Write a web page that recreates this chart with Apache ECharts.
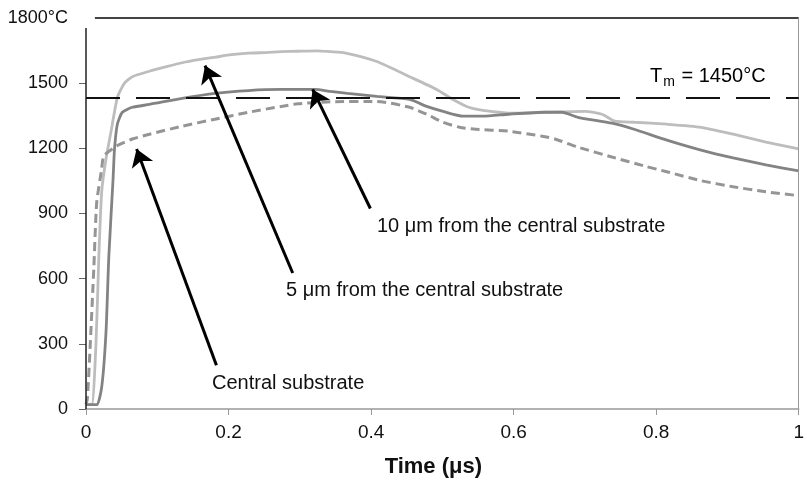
<!DOCTYPE html>
<html>
<head>
<meta charset="utf-8">
<script src="https://cdn.jsdelivr.net/npm/echarts@6/dist/echarts.min.js"></script>
<style>html,body{margin:0;padding:0;background:#fff}#c{width:807px;height:483px}</style>
</head>
<body>
<div id="c"></div>
<script>
// ---- data (time in µs, temperature in °C) ----
const xTicks = [0, 0.2, 0.4, 0.6, 0.8, 1];
const yTicks = [0, 300, 600, 900, 1200, 1500, 1800];
const meltTemp = 1435; // drawn position of the Tm line
const meltLabel = 'T_m = 1450°C';

const fiveMicron = [[0,20],[0.008,20],[0.014,300],[0.018,700],[0.022,1000],[0.028,1150],[0.035,1275],[0.044,1434],[0.054,1500],[0.065,1530],[0.089,1555],[0.113,1576],[0.135,1594],[0.158,1608],[0.182,1620],[0.204,1631],[0.228,1638],[0.251,1641],[0.274,1645],[0.297,1647],[0.325,1649],[0.343,1645],[0.363,1640],[0.408,1600],[0.454,1530],[0.492,1471],[0.515,1425],[0.537,1389],[0.557,1375],[0.599,1362],[0.644,1366],[0.700,1370],[0.724,1357],[0.742,1325],[0.769,1320],[0.815,1311],[0.863,1297],[0.908,1265],[0.954,1229],[1.0,1197]];

const tenMicron = [[0,20],[0.015,20],[0.022,100],[0.028,350],[0.032,700],[0.038,1060],[0.040,1197],[0.044,1311],[0.051,1366],[0.065,1389],[0.089,1402],[0.135,1430],[0.181,1453],[0.228,1466],[0.274,1471],[0.321,1471],[0.343,1462],[0.367,1453],[0.408,1439],[0.454,1425],[0.478,1393],[0.501,1370],[0.529,1348],[0.557,1348],[0.593,1357],[0.644,1366],[0.668,1366],[0.690,1343],[0.738,1316],[0.769,1288],[0.815,1238],[0.863,1192],[0.908,1156],[0.954,1124],[1.0,1096]];

const central = [[0,20],[0.002,50],[0.006,300],[0.011,650],[0.015,950],[0.022,1105],[0.025,1165],[0.043,1211],[0.065,1243],[0.089,1265],[0.135,1302],[0.181,1334],[0.228,1366],[0.274,1393],[0.297,1405],[0.343,1414],[0.408,1416],[0.454,1389],[0.478,1357],[0.501,1320],[0.524,1297],[0.547,1288],[0.593,1279],[0.640,1256],[0.658,1243],[0.690,1206],[0.738,1160],[0.783,1119],[0.815,1092],[0.863,1051],[0.908,1023],[0.954,1000],[1.0,982]];

// annotation arrows: [tail, tip] in data coords
const arrowCentral = [[0.183, 201], [0.071, 1197]];
const arrowFive = [[0.290, 626], [0.167, 1581]];
const arrowTen = [[0.399, 923], [0.318, 1471]];
const labelCentral = 'Central substrate';
const labelFive = '5 μm from the central substrate';
const labelTen = '10 μm from the central substrate';

const FONT = 'Liberation Sans, Arial, Helvetica, sans-serif';
const chart = echarts.init(document.getElementById('c'));

function arrowItem(a) {
  return [{ coord: a[0] }, { coord: a[1] }];
}

chart.setOption({
  animation: false,
  backgroundColor: '#fff',
  grid: { left: 86, right: 1, top: 18, bottom: 71, containLabel: false },
  xAxis: {
    type: 'value', min: xTicks[0], max: xTicks[xTicks.length - 1], interval: 0.2,
    name: 'Time (μs)', nameLocation: 'middle', nameGap: 47,
    nameTextStyle: { fontFamily: FONT, fontWeight: 'bold', fontSize: 22, color: '#111', padding: [0, 18, 0, 0] },
    axisLine: { show: true, lineStyle: { color: '#999', width: 1.5 } },
    axisTick: { show: true, length: 6, lineStyle: { color: '#999' } },
    axisLabel: { fontFamily: FONT, fontSize: 19, color: '#111', margin: 14,
      formatter: v => String(+v.toFixed(1)) },
    splitLine: { show: false }
  },
  yAxis: {
    type: 'value', min: yTicks[0], max: yTicks[yTicks.length - 1], interval: 300,
    axisLine: { show: false },
    axisTick: { show: true, length: 7, lineStyle: { color: '#666' }, customValues: yTicks.slice(0, -1) },
    axisLabel: { fontFamily: FONT, fontSize: 18, color: '#111', margin: 18,
      formatter: v => v === 1800 ? '1800°C' : String(v) },
    splitLine: { show: false }
  },
  graphic: [
    { type: 'text', left: 212, top: 373, style: { text: labelCentral, font: '20px ' + FONT, fill: '#111' } },
    { type: 'text', left: 286, top: 280, style: { text: labelFive, font: '20px ' + FONT, fill: '#111' } },
    { type: 'text', left: 377, top: 216, style: { text: labelTen, font: '20px ' + FONT, fill: '#111' } },
    { type: 'text', left: 650, top: 63, style: {
      text: '{t|T}{s|m}{t| = 1450°C}',
      rich: {
        t: { fontFamily: FONT, fontSize: 20, color: '#111', lineHeight: 24 },
        s: { fontFamily: FONT, fontSize: 14, color: '#111', lineHeight: 24, padding: [12, 1, 0, 1] }
      }
    } }
  ],
  series: [
    {
      name: 'frame', type: 'line', data: [], clip: false, silent: true,
      markLine: {
        silent: true, symbol: 'none', label: { show: false }, animation: false,
        data: [
          [{ coord: [0, 0], lineStyle: { color: '#222', width: 1.5, type: 'solid' } }, { coord: [0, 1754] }],
          [{ coord: [0.0125, 1800], lineStyle: { color: '#444', width: 2, type: 'solid' } }, { coord: [1, 1800] }],
          [{ coord: [1, 0], lineStyle: { color: '#999', width: 1, type: 'solid' } }, { coord: [1, 1800] }],
          [{ coord: [0, meltTemp], lineStyle: { color: '#111', width: 2.2, type: [34, 16] } }, { coord: [1, meltTemp] }]
        ]
      }
    },
    {
      name: '5 μm', type: 'line', data: fiveMicron, showSymbol: false, smooth: 0.2,
      lineStyle: { color: '#bdbdbd', width: 2.8 }, z: 3
    },
    {
      name: '10 μm', type: 'line', data: tenMicron, showSymbol: false, smooth: 0.2,
      lineStyle: { color: '#838383', width: 2.8 }, z: 4
    },
    {
      name: 'Central', type: 'line', data: central, showSymbol: false, smooth: 0.2,
      lineStyle: { color: '#959595', width: 3, type: [9, 5] }, z: 3
    },
    {
      name: 'arrows', type: 'line', data: [], clip: false, silent: true, z: 6,
      markLine: {
        silent: true, symbol: ['none', 'arrow'], symbolSize: 17, label: { show: false }, animation: false,
        lineStyle: { color: '#000', width: 3, type: 'solid' },
        data: [arrowItem(arrowCentral), arrowItem(arrowFive), arrowItem(arrowTen)]
      }
    }
  ]
});
</script>
</body>
</html>
